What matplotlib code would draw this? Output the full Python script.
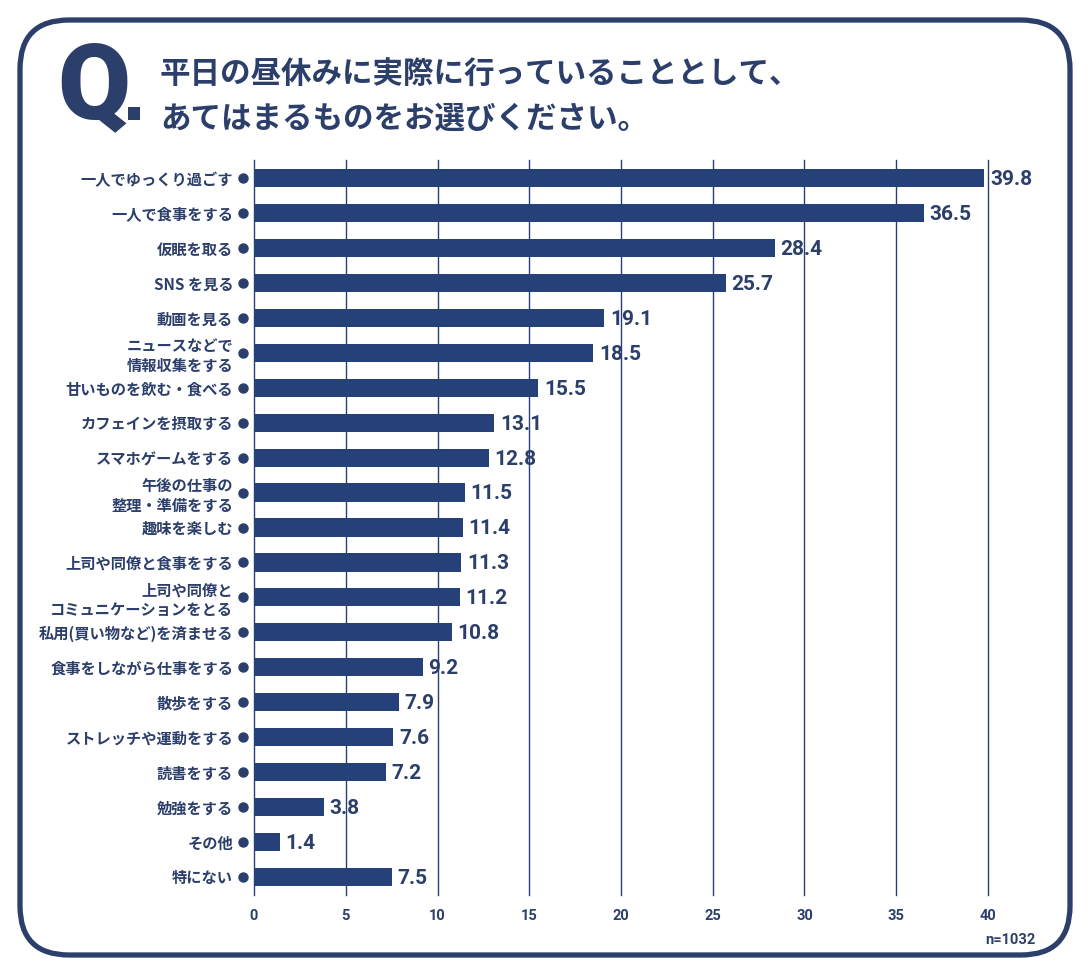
import matplotlib
matplotlib.use("Agg")
import matplotlib.pyplot as plt
from matplotlib.patches import FancyBboxPatch, Rectangle
import matplotlib.transforms as mtransforms

categories = [
    "一人でゆっくり過ごす", "一人で食事をする", "仮眠を取る", "SNS を見る", "動画を見る",
    "ニュースなどで\n情報収集をする", "甘いものを飲む・食べる", "カフェインを摂取する",
    "スマホゲームをする", "午後の仕事の\n整理・準備をする", "趣味を楽しむ",
    "上司や同僚と食事をする", "上司や同僚と\nコミュニケーションをとる",
    "私用(買い物など)を済ませる", "食事をしながら仕事をする", "散歩をする",
    "ストレッチや運動をする", "読書をする", "勉強をする", "その他", "特にない",
]
values = [39.8, 36.5, 28.4, 25.7, 19.1, 18.5, 15.5, 13.1, 12.8, 11.5, 11.4,
          11.3, 11.2, 10.8, 9.2, 7.9, 7.6, 7.2, 3.8, 1.4, 7.5]
xticks = [0, 5, 10, 15, 20, 25, 30, 35, 40]
title_lines = ["平日の昼休みに実際に行っていることとして、", "あてはまるものをお選びください。"]
note = "n=1032"

NAVY = "#26407a"
TEXT = "#2c3f6b"
JP = ["Noto Sans CJK JP", "DejaVu Sans"]
NUM = ["Roboto", "DejaVu Sans"]

plt.rcParams["font.family"] = JP

W, H = 1090, 975
fig = plt.figure(figsize=(W / 100, H / 100), dpi=100)
fig.patch.set_facecolor("white")

# rounded frame
frame = FancyBboxPatch((20 / W, 20 / H), 1050 / W, 935 / H,
                       boxstyle="round,pad=0,rounding_size=0.045",
                       transform=fig.transFigure, facecolor="none",
                       edgecolor=TEXT, linewidth=3.8, mutation_aspect=W / H)
fig.patches.append(frame)

# title
fig.text(57 / W, 1 - 90 / H, "Q", fontsize=76, fontweight=900, color=TEXT,
         family=NUM, va="center", ha="left")
fig.patches.append(Rectangle((128 / W, 1 - 120 / H), 12 / W, 13 / H,
                             transform=fig.transFigure, facecolor=TEXT, edgecolor="none"))
fig.text(160 / W, 1 - 75 / H, title_lines[0], fontsize=22, fontweight="bold", color=TEXT,
         va="center", ha="left")
fig.text(160 / W, 1 - 119 / H, title_lines[1], fontsize=22, fontweight="bold", color=TEXT,
         va="center", ha="left")

ax = fig.add_axes([254 / W, 1 - 895 / H, (988 - 254) / W, (895 - 160) / H])
n = len(categories)
ypos = list(range(n))
ax.barh(ypos, values, height=0.52, color=NAVY, zorder=3)
ax.set_xlim(0, 40)
ax.set_ylim(n - 0.48, -0.52)
ax.set_xticks(xticks)
ax.set_xticklabels([str(t) for t in xticks])
ax.grid(axis="x", color=NAVY, linewidth=1.0, zorder=0)
for gl in ax.get_xgridlines():
    gl.set_clip_on(False)
for s in ax.spines.values():
    s.set_visible(False)
ax.tick_params(axis="x", length=0, pad=10, labelsize=10.5, labelcolor=TEXT)
for lab in ax.get_xticklabels():
    lab.set_fontweight("bold")
    lab.set_family(NUM)
ax.set_yticks(ypos)
ax.set_yticklabels(categories, fontsize=11, fontweight="bold", color=TEXT, linespacing=1.25)
ax.tick_params(axis="y", length=0, pad=15)

trans = mtransforms.blended_transform_factory(ax.transAxes, ax.transData)
ax.plot([-11 / (988 - 254)] * n, ypos, "o", color=TEXT, markersize=6.5,
        transform=trans, clip_on=False, zorder=4)

for y, v in zip(ypos, values):
    ax.annotate(f"{v}", (v, y), xytext=(4, -1), textcoords="offset points",
                va="center", ha="left", fontsize=15, fontweight="bold", color=TEXT,
                family=NUM)

fig.text(1010 / W, 1 - 940 / H, note, fontsize=10.5, fontweight="bold", color=TEXT,
         ha="center", va="center", family=NUM)

fig.savefig("out.png", dpi=100, facecolor="white")
